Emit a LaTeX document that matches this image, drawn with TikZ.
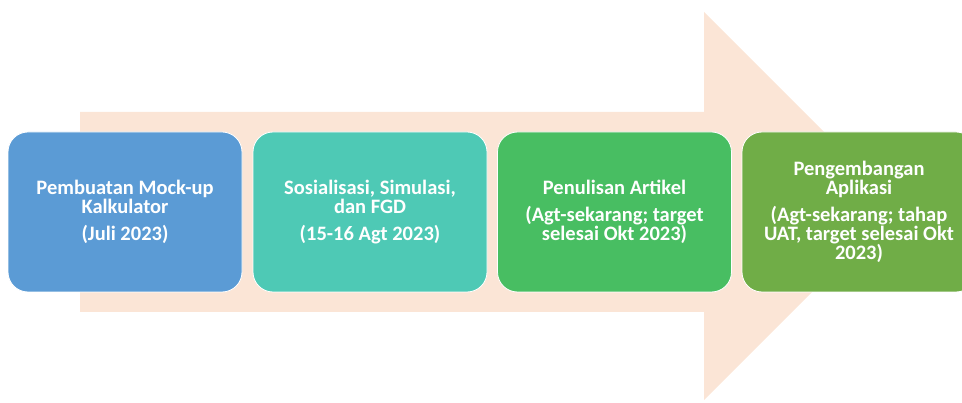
\documentclass[tikz,border=0pt]{standalone}
\usepackage{fontspec}
\setmainfont{Carlito}
\definecolor{arrowfill}{RGB}{251,229,214}
\definecolor{stepblue}{RGB}{91,155,213}
\definecolor{stepteal}{RGB}{78,201,181}
\definecolor{stepgreen}{RGB}{72,190,98}
\definecolor{stepolive}{RGB}{112,173,71}
% tight line spacing for the step labels
\newcommand\phasefont{\bfseries\fontsize{20.5}{19}\selectfont\lineskiplimit-50pt\relax}
\begin{document}
\begin{tikzpicture}[x=1pt,y=-1pt,
  phase/.style={rounded corners=20pt, minimum width=234pt, minimum height=160pt,
    draw=white, line width=0.8pt, inner sep=0pt, text=white, align=center,
    font=\phasefont}]
  \useasboundingbox (0,0) rectangle (962,403);
  \clip (0,0) rectangle (962,403);
  % large background arrow
  \fill[arrowfill] (80,112) -- (704,112) -- (704,12) -- (898,206)
    -- (704,400) -- (704,312) -- (80,312) -- cycle;
  % process steps
  \node[phase, fill=stepblue] (s1) at (125,212)
    {Pembuatan Mock-up\\Kalkulator\\[8pt](Juli 2023)};
  \node[phase, fill=stepteal] (s2) at (370,212)
    {Sosialisasi, Simulasi,\\dan FGD\\[8pt](15-16 Agt 2023)};
  \node[phase, fill=stepgreen] (s3) at (614.5,212)
    {Penulisan Artikel\\[8pt](Agt-sekarang; target\\selesai Okt 2023)};
  \node[phase, fill=stepolive] (s4) at (859,212)
    {Pengembangan\\Aplikasi\\[8pt](Agt-sekarang; tahap\\UAT, target selesai Okt\\2023)};
\end{tikzpicture}
\end{document}
